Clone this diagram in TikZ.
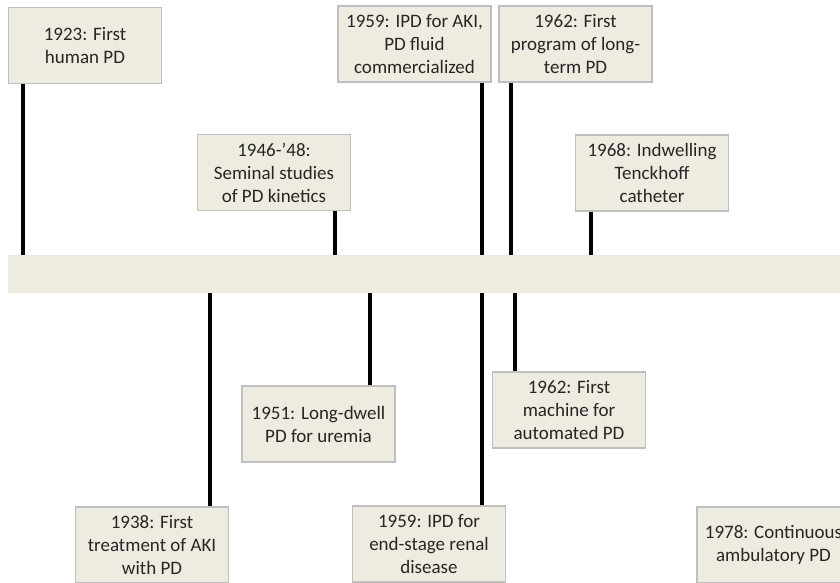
\documentclass[tikz,border=0pt]{standalone}
\usepackage{fontspec}
\setmainfont{Carlito}
\usetikzlibrary{positioning}

\definecolor{boxfill}{HTML}{EEECE1}
\definecolor{boxline}{HTML}{BFBFBF}

\begin{document}
\begin{tikzpicture}[x=1pt, y=-1pt,
        event/.style={draw=boxline, line width=1.2pt, fill=boxfill,
            minimum width=153pt, minimum height=76pt, inner sep=2pt,
            align=center, text=black!85, font=\fontsize{19}{23}\selectfont},
        stem/.style={line width=4.6pt}
    ]
            \useasboundingbox (0,0) rectangle (840,582);
            \clip (0,0) rectangle (840,582);

            % the time band
            \node[fill=boxfill, minimum width=850pt, minimum height=38pt, inner sep=0pt, anchor=west] (band) at (8,274) {};

            % events above the band
            \node[event] (b1923) at (85,45.5) {1923: First\\human PD};
            \node[event] (b1946) at (274,172.5) {1946-’48:\\Seminal studies\\of PD kinetics};
            \node[event] (b1959a) at (414.5,44) {1959: IPD for AKI,\\PD fluid\\commercialized};
            \node[event] (b1962a) at (575.5,44) {1962: First\\program of long-\\term PD};
            \node[event] (b1968) at (652,173) {1968: Indwelling\\Tenckhoff\\catheter};

            % events below the band
            \node[event] (b1938) at (152,545) {1938: First\\treatment of AKI\\with PD};
            \node[event] (b1951) at (318.5,424) {1951: Long-dwell\\PD for uremia};
            \node[event] (b1959b) at (429,544) {1959: IPD for\\end-stage renal\\disease};
            \node[event] (b1962b) at (569,410) {1962: First\\machine for\\automated PD};
            \node[event] (b1978) at (773.5,545) {1978: Continuous\\ambulatory PD};

            \coordinate (s1923) at (23,0);
            \coordinate (s1946) at (335,0);
            \coordinate (s1959a) at (482,0);
            \coordinate (s1962a) at (511,0);
            \coordinate (s1968) at (591,0);
            \coordinate (s1938) at (210,0);
            \coordinate (s1951) at (370,0);
            \coordinate (s1959b) at (482,0);
            \coordinate (s1962b) at (515,0);

            \draw[stem] (s1923 |- b1923.south) -- (s1923 |- band.north);
            \draw[stem] (s1946 |- b1946.south) -- (s1946 |- band.north);
            \draw[stem] (s1959a |- b1959a.south) -- (s1959a |- band.north);
            \draw[stem] (s1962a |- b1962a.south) -- (s1962a |- band.north);
            \draw[stem] (s1968 |- b1968.south) -- (s1968 |- band.north);
            \draw[stem] (s1938 |- band.south) -- (s1938 |- b1938.north);
            \draw[stem] (s1951 |- band.south) -- (s1951 |- b1951.north);
            \draw[stem] (s1959b |- band.south) -- (s1959b |- b1959b.north);
            \draw[stem] (s1962b |- band.south) -- (s1962b |- b1962b.north);
        \end{tikzpicture}
\end{document}
